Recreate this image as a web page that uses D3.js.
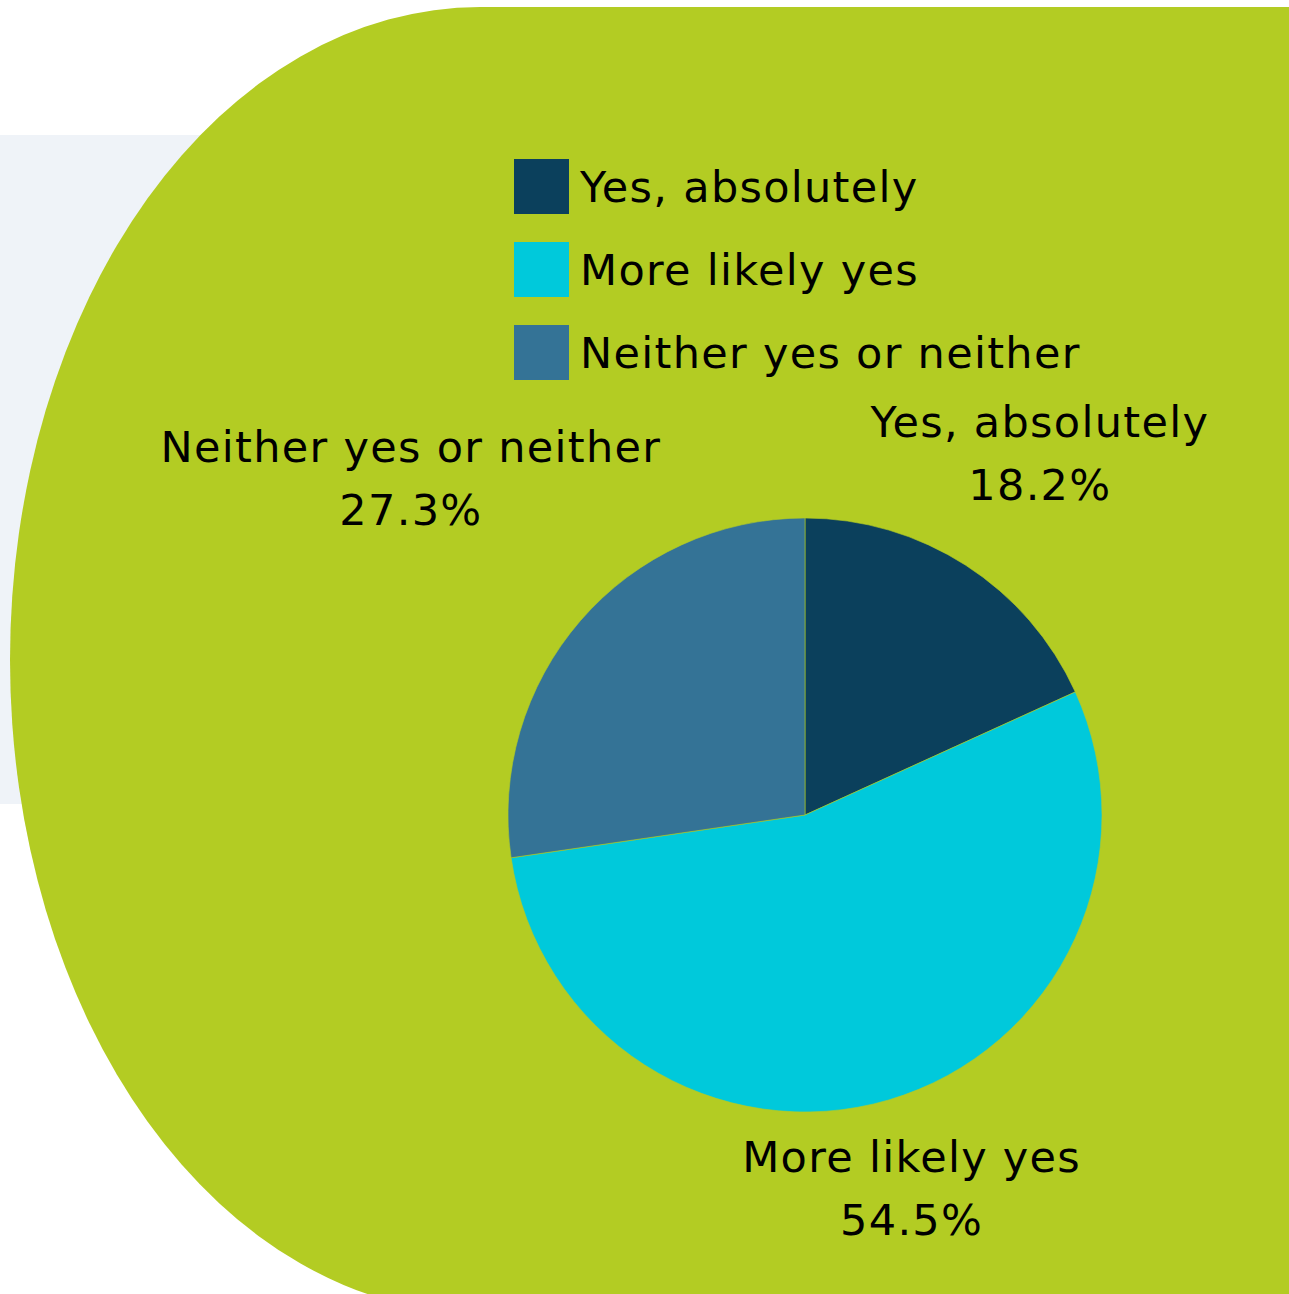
<!DOCTYPE html>
<html>
<head>
<meta charset="utf-8">
<script src="https://cdn.jsdelivr.net/npm/d3@7"></script>
<style>
  html, body { margin: 0; padding: 0; background: #ffffff; }
  svg { display: block; }
  text { font-family: "DejaVu Sans", sans-serif; fill: #000; letter-spacing: 1.3px; }
</style>
</head>
<body>
<div id="chart"></div>
<script>
var width = 1289;
var height = 1294;

// data
var categories = ["Yes, absolutely", "More likely yes", "Neither yes or neither"];
var shares = [18.2, 54.5, 27.3];
var sliceColors = ["#0b405c", "#00c9db", "#347396"];

var svg = d3.select("#chart").append("svg")
    .attr("width", width)
    .attr("height", height);

// light panel behind the blob
svg.append("rect")
    .attr("x", 0).attr("y", 135)
    .attr("width", 600).attr("height", 669)
    .attr("fill", "#eff3f8");

// green blob: half ellipse on the left, flat to the right edge
var bx = 480, by = 660, brx = 470, bry = 653;
var blob = d3.path();
blob.moveTo(bx, by - bry);
blob.lineTo(width + 10, by - bry);
blob.lineTo(width + 10, by + bry);
blob.lineTo(bx, by + bry);
svg.append("path")
    .attr("d", blob.toString() + " A" + brx + "," + bry + " 0 0 1 " + bx + "," + (by - bry) + "Z")
    .attr("fill", "#b3cc23");

var color = d3.scaleOrdinal()
    .domain(categories)
    .range(sliceColors);

var cx = 805, cy = 815, radius = 297;

var pie = d3.pie()
    .sort(null)
    .value(d => d.value);

var arc = d3.arc()
    .innerRadius(0)
    .outerRadius(radius);

var data = categories.map((c, i) => ({ name: c, value: shares[i] }));
var arcs = pie(data);

var g = svg.append("g")
    .attr("transform", "translate(" + cx + "," + cy + ")");

g.selectAll(".slice")
    .data(arcs)
    .enter()
    .append("path")
    .attr("class", "slice")
    .attr("d", arc)
    .attr("fill", d => color(d.data.name))
    .attr("stroke", "#b3cc23")
    .attr("stroke-width", 0.6);

// outside labels, placed along each slice's mid angle
var labelArc = d3.arc()
    .innerRadius(410)
    .outerRadius(410);

var labelOffsets = [[13, -2], [-9, -5], [-84, -54]];

var labels = g.selectAll(".lbl")
    .data(arcs)
    .enter()
    .append("text")
    .attr("class", "lbl")
    .attr("text-anchor", "middle")
    .attr("font-size", 43)
    .attr("transform", (d, i) => {
        var p = labelArc.centroid(d);
        return "translate(" + (p[0] + labelOffsets[i][0]) + "," + (p[1] + labelOffsets[i][1]) + ")";
    });

labels.append("tspan")
    .attr("x", 0)
    .attr("y", -31)
    .text(d => d.data.name);

labels.append("tspan")
    .attr("x", 0)
    .attr("y", 32)
    .text(d => d.data.value.toFixed(1) + "%");

// legend
var legend = svg.append("g")
    .attr("transform", "translate(514,159)");

var item = legend.selectAll(".item")
    .data(categories)
    .enter()
    .append("g")
    .attr("class", "item")
    .attr("transform", (d, i) => "translate(0," + (i * 83) + ")");

item.append("rect")
    .attr("width", 55)
    .attr("height", 55)
    .attr("fill", d => color(d));

item.append("text")
    .attr("x", 66)
    .attr("y", 43)
    .attr("font-size", 43)
    .text(d => d);
</script>
</body>
</html>
